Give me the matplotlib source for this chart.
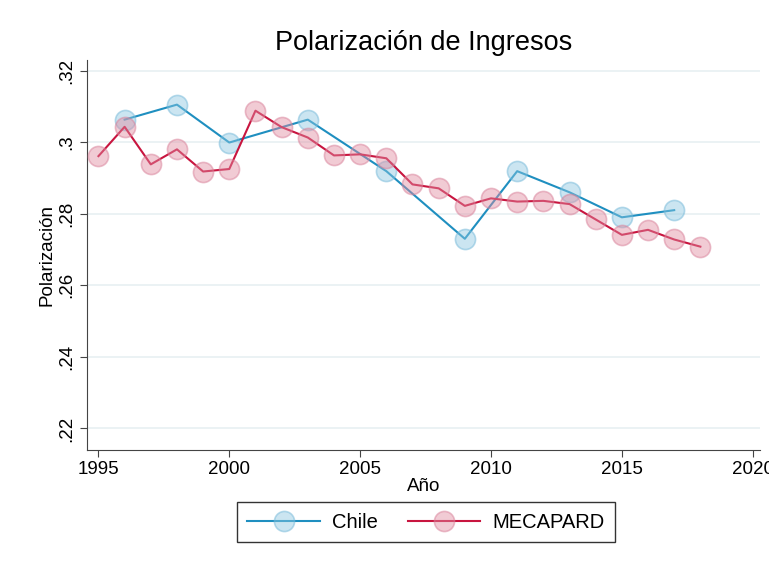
import matplotlib
matplotlib.use("Agg")
import matplotlib.pyplot as plt

plt.rcParams["font.family"] = ["Liberation Sans", "DejaVu Sans"]

chile_years = [1996, 1998, 2000, 2003, 2006, 2009, 2011, 2013, 2015, 2017]
chile_vals = [0.3063, 0.3105, 0.2999, 0.3063, 0.2919, 0.2730, 0.2919, 0.2860, 0.2790, 0.2810]

mec_years = list(range(1995, 2019))
mec_vals = [0.2961, 0.3043, 0.2938, 0.2980, 0.2918, 0.2925, 0.3088, 0.3042,
            0.3013, 0.2963, 0.2966, 0.2955, 0.2882, 0.2871, 0.2822, 0.2843,
            0.2834, 0.2836, 0.2827, 0.2784, 0.2741, 0.2755, 0.2728, 0.2708]

yticks = [0.22, 0.24, 0.26, 0.28, 0.30, 0.32]
ytick_labels = [".22", ".24", ".26", ".28", ".3", ".32"]
xticks = [1995, 2000, 2005, 2010, 2015, 2020]

BLUE = "#1f8fc0"
RED = "#c8153f"

fig = plt.figure(figsize=(7.69, 5.65), dpi=100)
ax = fig.add_axes([0.1127, 0.2044, 0.8753, 0.6896])

for yt in yticks:
    ax.axhline(yt, color="#e8f0f2", lw=1.2, zorder=0)

ax.plot(chile_years, chile_vals, color=BLUE, lw=1.5, marker="o", ms=14.5,
        mfc=(0.55, 0.78, 0.88, 0.45), mec=(0.45, 0.72, 0.85, 0.5), mew=1.2,
        label="Chile", zorder=3)
ax.plot(mec_years, mec_vals, color=RED, lw=1.5, marker="o", ms=14.5,
        mfc=(0.88, 0.55, 0.63, 0.45), mec=(0.85, 0.5, 0.6, 0.5), mew=1.2,
        label="MECAPARD", zorder=4)

ax.set_xlim(1994.55, 2020.27)
ax.set_ylim(0.2141, 0.323)
ax.set_xticks(xticks)
ax.set_yticks(yticks)
ax.set_yticklabels(ytick_labels, rotation=90, va="center")
ax.tick_params(axis="both", labelsize=13.5, length=5, color="#444444", direction="out")

for s in ["top", "right"]:
    ax.spines[s].set_visible(False)
for s in ["left", "bottom"]:
    ax.spines[s].set_color("#444444")

ax.set_xlabel("Año", fontsize=13.5, labelpad=0)
ax.set_ylabel("Polarización", fontsize=13.5, labelpad=2)
ax.set_title("Polarización de Ingresos", fontsize=19.5, pad=7)

fig.legend(loc="center", bbox_to_anchor=(0.554, 0.076), ncol=2, fontsize=14.5,
           frameon=True, fancybox=False, edgecolor="black", handlelength=3.6,
           handletextpad=0.6, columnspacing=1.5, borderpad=0.5, borderaxespad=0)

fig.savefig("out.png", dpi=100)
